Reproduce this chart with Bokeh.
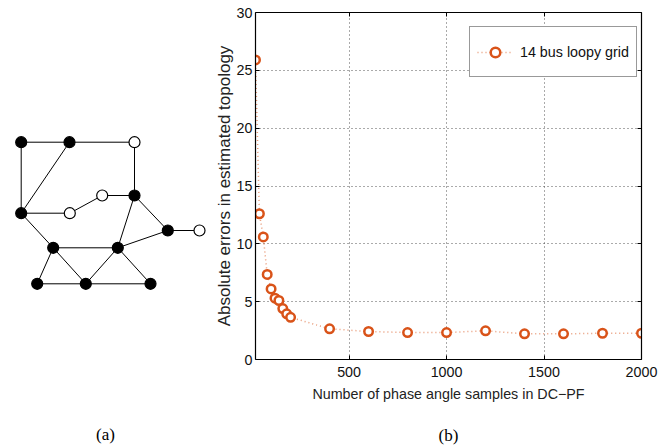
from bokeh.plotting import figure
from bokeh.layouts import row
from bokeh.models import Range1d, FixedTicker, LinearAxis, Legend, LegendItem
from bokeh.embed import file_html
from bokeh.resources import INLINE

# ---- data for panel (b) ----
samples = [20, 40, 60, 80, 100, 120, 140, 160, 180, 200,
           400, 600, 800, 1000, 1200, 1400, 1600, 1800, 2000]
errors = [25.9, 12.6, 10.6, 7.35, 6.1, 5.3, 5.1, 4.4, 3.95, 3.65,
          2.65, 2.42, 2.33, 2.33, 2.48, 2.22, 2.22, 2.27, 2.27]
x_ticks = [500, 1000, 1500, 2000]
y_ticks = [0, 5, 10, 15, 20, 25, 30]
series_label = "14 bus loopy grid"
x_label = "Number of phase angle samples in DC\u2212PF"
y_label = "Absolute errors in estimated topology"
captions = ["(a)", "(b)"]

# ---- data for panel (a): 14-bus loopy grid layout ----
node_names = ["A", "B", "C", "D", "E", "F", "G", "H", "I", "J", "K", "L", "M", "N"]
node_x = [20.7, 69, 134, 20.7, 69.3, 101.7, 134, 167.3, 199, 52.7, 117.3, 36.7, 85.3, 150]
node_y = [305.3, 305.3, 305.3, 234.3, 234.3, 252, 252, 217, 217, 199.7, 199.7, 163.7, 163.7, 163.7]
node_filled = [True, True, False, True, False, False, True, True, False, True, True, True, True, True]
edges = [("A", "B"), ("B", "C"), ("A", "D"), ("B", "D"), ("C", "G"), ("D", "E"),
         ("E", "F"), ("F", "G"), ("D", "J"), ("G", "H"), ("H", "I"), ("G", "K"),
         ("K", "H"), ("J", "K"), ("J", "L"), ("J", "M"), ("K", "M"), ("K", "N"),
         ("L", "M"), ("M", "N")]

ORANGE = "#D95319"
SANS = "Liberation Sans"
SERIF = "Liberation Serif"
TOP, BOTTOM = 12, 88


def caption_axis(text, standoff):
    # an axis with no ticks or line, used only to carry the panel caption
    return LinearAxis(ticker=FixedTicker(ticks=[]),
                      axis_line_color=None, major_tick_line_color=None,
                      minor_tick_line_color=None, major_label_standoff=0,
                      major_tick_in=0, major_tick_out=0, minor_tick_in=0, minor_tick_out=0,
                      axis_label=text, axis_label_standoff=standoff,
                      axis_label_text_font=SERIF, axis_label_text_font_size="17px",
                      axis_label_text_font_style="normal", axis_label_text_color="black",
                      axis_label_text_align="right")


# ---------------- panel (a) ----------------
fa = figure(width=210, height=447, x_range=Range1d(0, 210), y_range=Range1d(BOTTOM, 447 - TOP),
            output_backend="svg", toolbar_location=None,
            x_axis_location=None, y_axis_location=None,
            min_border_left=0, min_border_right=0, min_border_top=TOP, min_border_bottom=BOTTOM)
fa.outline_line_color = None
for g in fa.grid:
    g.visible = False

pos = {n: (x, y) for n, x, y in zip(node_names, node_x, node_y)}
fa.multi_line(xs=[[pos[a][0], pos[b][0]] for a, b in edges],
              ys=[[pos[a][1], pos[b][1]] for a, b in edges],
              line_color="black", line_width=1)
fa.scatter(node_x, node_y, marker="circle", size=11,
           fill_color=["black" if f else "white" for f in node_filled],
           line_color="black", line_width=1.2)
fa.add_layout(caption_axis(captions[0], 65), "below")

# ---------------- panel (b) ----------------
fb = figure(width=460, height=447, x_range=Range1d(20, 2000), y_range=Range1d(0, 30),
            output_backend="svg", toolbar_location=None,
            min_border_left=45, min_border_right=29, min_border_top=TOP, min_border_bottom=BOTTOM)
fb.outline_line_color = None
fb.background_fill_color = "white"

r_line = fb.line(samples, errors, line_color=ORANGE, line_alpha=0.6, line_width=1.5, line_dash="1 3")
r_pts = fb.scatter(samples, errors, marker="circle", size=8.5, fill_color="white",
                   line_color=ORANGE, line_width=2.5)

fb.xaxis.ticker = FixedTicker(ticks=x_ticks)
fb.yaxis.ticker = FixedTicker(ticks=y_ticks)
for ax in (fb.xaxis, fb.yaxis):
    ax.major_tick_in = 4
    ax.major_tick_out = 0
    ax.minor_tick_in = 0
    ax.minor_tick_out = 0
    ax.axis_line_color = "black"
    ax.axis_line_width = 1.2
    ax.major_tick_line_color = "black"
    ax.major_label_text_font = SANS
    ax.major_label_text_font_size = "14.3px"
    ax.major_label_text_color = "#111111"
    ax.axis_label_text_font = SANS
    ax.axis_label_text_font_style = "normal"
    ax.axis_label_text_color = "#222222"

fb.xaxis.axis_label = x_label
fb.xaxis.axis_label_text_font_size = "14.3px"
fb.xaxis.major_label_standoff = 7
fb.xaxis.axis_label_standoff = 6
fb.yaxis.axis_label = y_label
fb.yaxis.axis_label_text_font_size = "17px"
fb.yaxis.major_label_standoff = 3
fb.yaxis.axis_label_standoff = 0

for g in fb.grid:
    g.grid_line_color = "#444444"
    g.grid_line_dash = "1 3"
    g.grid_line_width = 1
    g.grid_line_alpha = 0.9

for loc, ticks in (("above", x_ticks), ("right", y_ticks)):
    ax = LinearAxis(ticker=FixedTicker(ticks=ticks), major_label_text_color=None,
                    major_tick_in=4, major_tick_out=0, minor_tick_in=0, minor_tick_out=0,
                    major_label_standoff=0, axis_line_color="black", axis_line_width=1.2)
    fb.add_layout(ax, loc)

legend = Legend(items=[LegendItem(label=series_label, renderers=[r_line, r_pts])],
                location=(214, 282), margin=0, padding=7, spacing=0,
                glyph_width=36, glyph_height=24, label_height=35, label_standoff=7,
                label_text_font=SANS, label_text_font_size="14.3px", label_text_color="#111111",
                border_line_color="#333333", border_line_width=1,
                background_fill_color="white", background_fill_alpha=1)
fb.add_layout(legend)

fb.add_layout(caption_axis(captions[1], 21), "below")

layout = row(fa, fb)
open("out.html", "w").write(file_html(layout, INLINE))
